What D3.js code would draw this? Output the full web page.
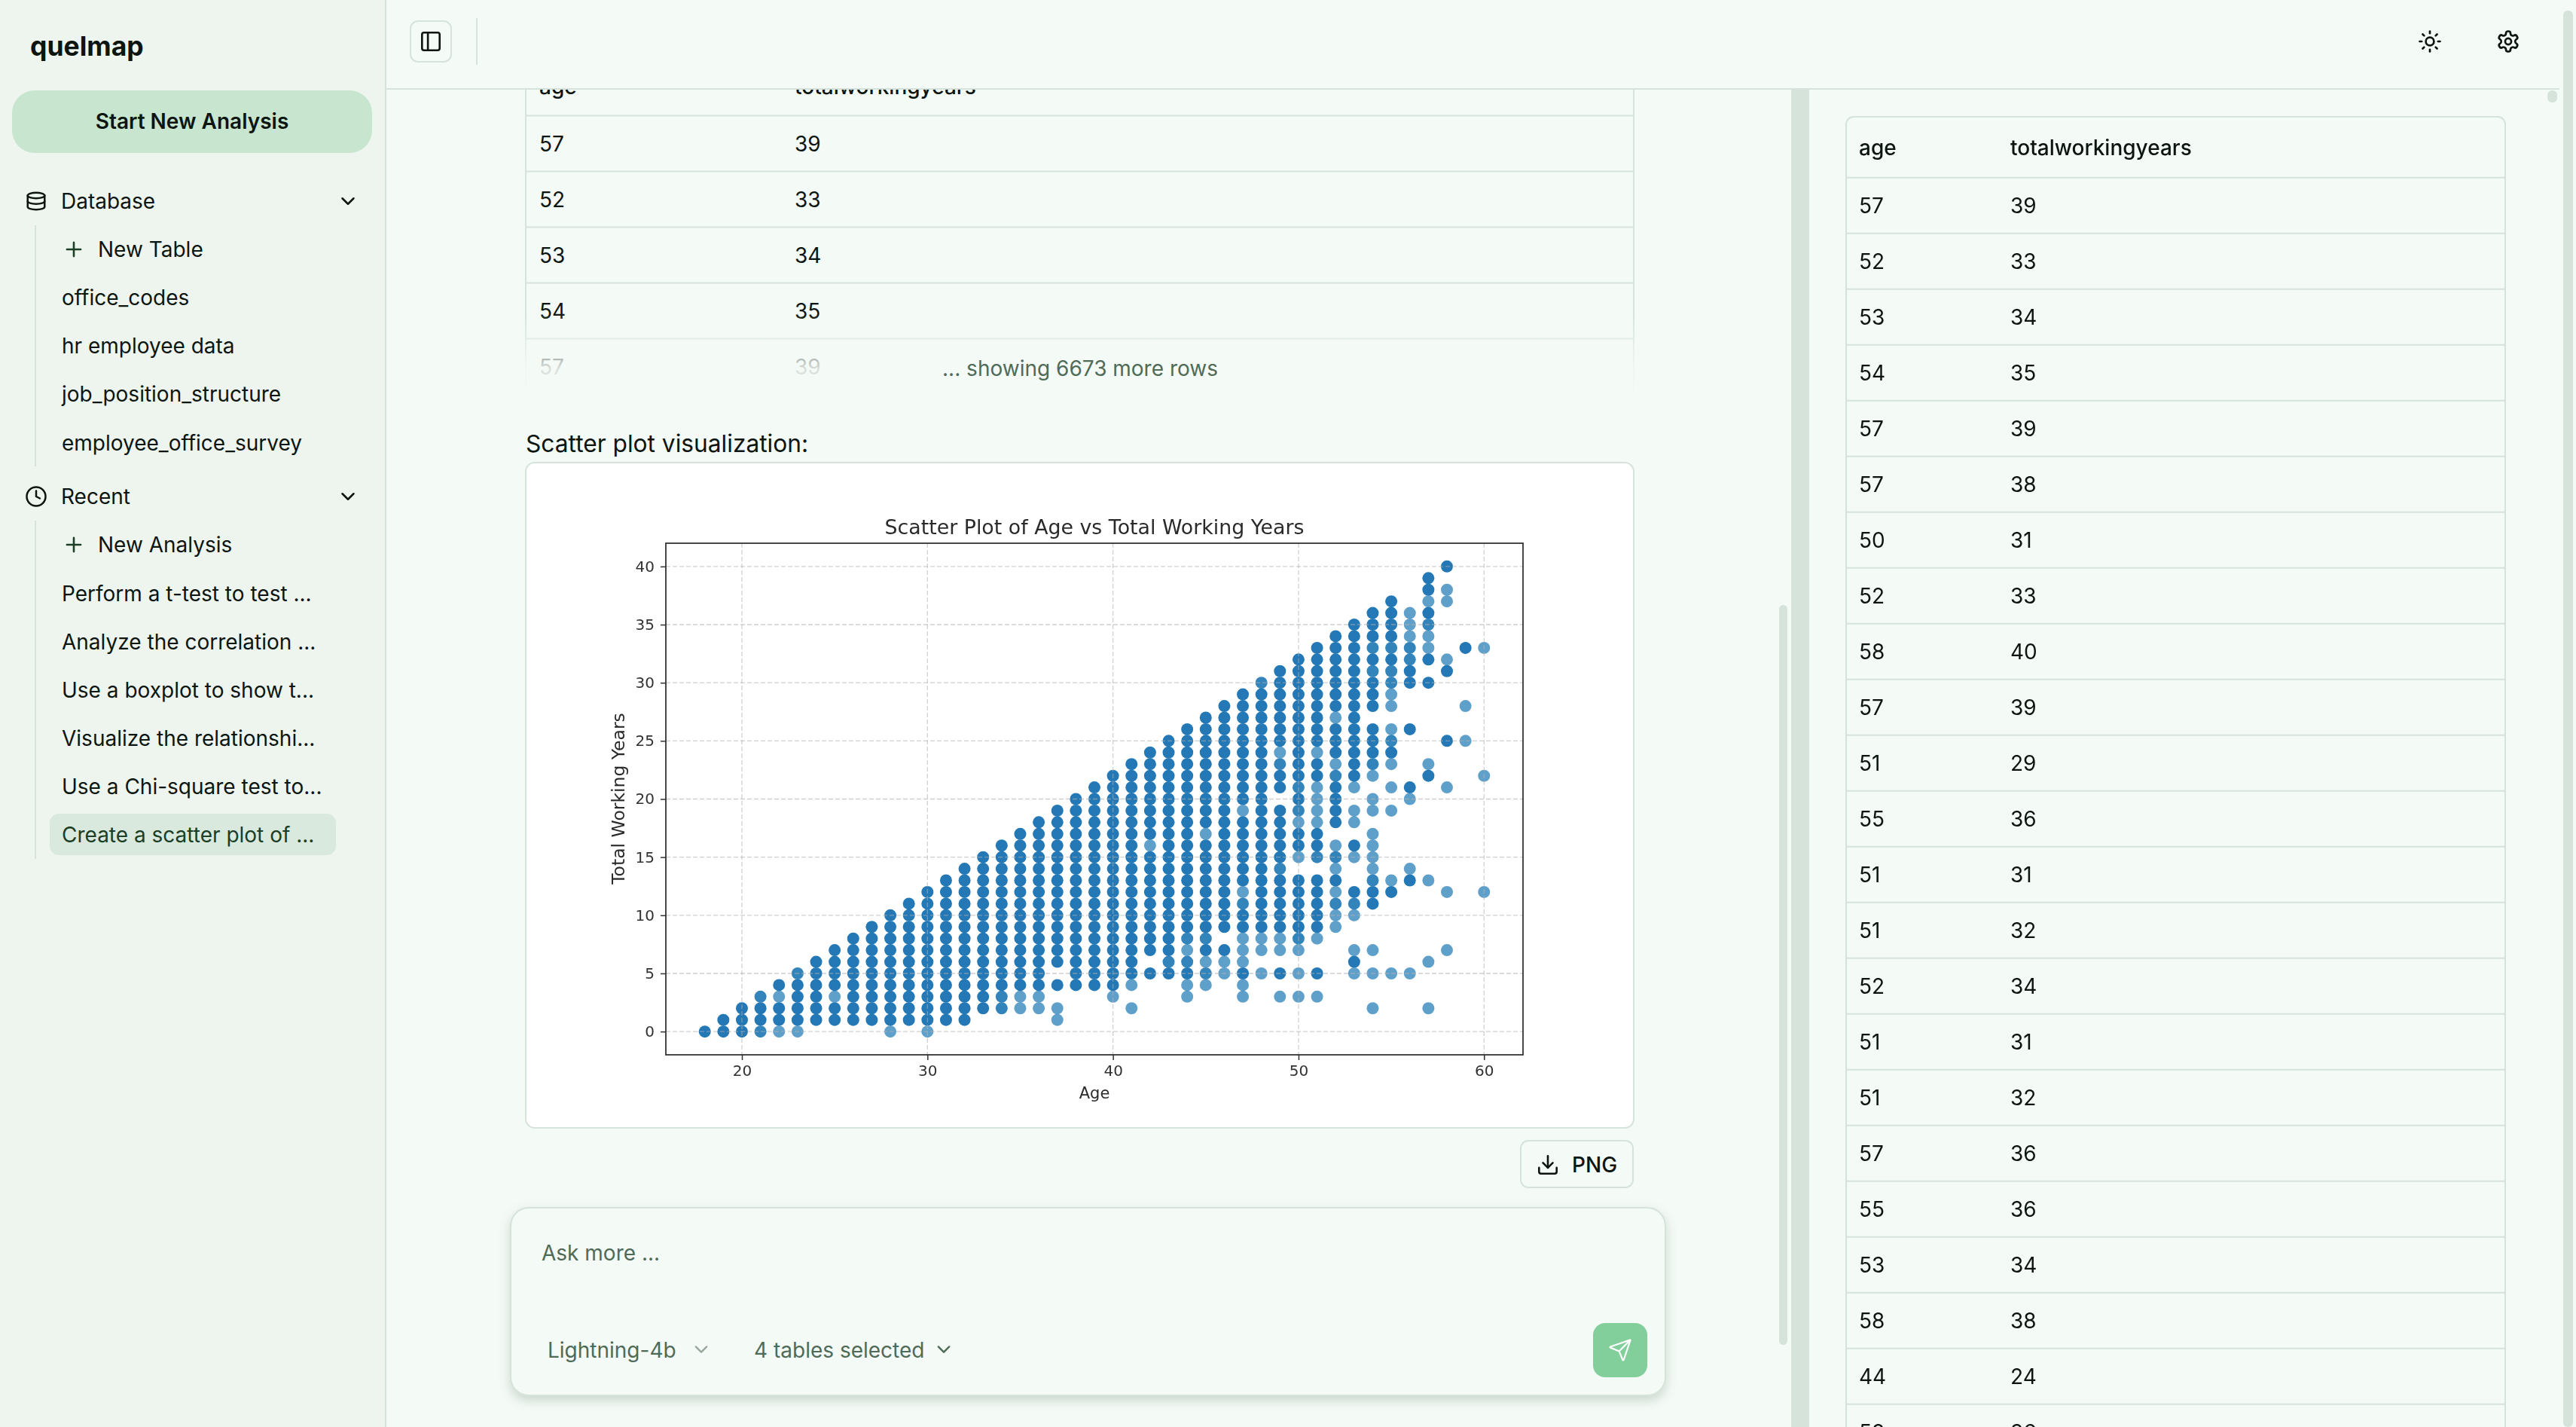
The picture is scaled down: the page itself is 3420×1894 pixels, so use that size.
<!DOCTYPE html>
<html>
<head>
<meta charset="utf-8">
<title>quelmap</title>
<script src="https://cdn.jsdelivr.net/npm/d3@7"></script>
<style>
  html, body { margin: 0; padding: 0; background: #f4faf6; overflow: hidden; }
  svg { display: block; font-family: Inter, sans-serif; }
</style>
</head>
<body>
<svg id="page" width="3420" height="1894"></svg>
<script>
// sidebar
const databaseItems = ["office_codes", "hr employee data", "job_position_structure", "employee_office_survey"]
const recentItems = ["Perform a t-test to test ...", "Analyze the correlation ...", "Use a boxplot to show t...", "Visualize the relationshi...", "Use a Chi-square test to...", "Create a scatter plot of ..."]

// table rows
const tableColumns = ["age", "totalworkingyears"]
const tableAges = [57, 52, 53, 54, 57, 57, 50, 52, 58, 57, 51, 55, 51, 51, 52, 51, 51, 57, 55, 53, 58, 44, 58]
const tableYears = [39, 33, 34, 35, 39, 38, 31, 33, 40, 39, 29, 36, 31, 32, 34, 31, 32, 36, 36, 34, 38, 24, 36]

// scatter, one entry per age
const ages = [18,19,20,21,22,23,24,25,26,27,28,29,30,31,32,33,34,35,36,37,38,39,40,41,42,43,44,45,46,47,48,49,50,51,52,53,54,55,56,57,58,59,60]
const yearsByAge = [
  [0],
  [0,1],
  [0,1,2],
  [0,1,2,3],
  [0,1,2,3,4],
  [0,1,2,3,4,5],
  [1,2,3,4,5,6],
  [1,2,3,4,5,6,7],
  [1,2,3,4,5,6,7,8],
  [1,2,3,4,5,6,7,8,9],
  [0,1,2,3,4,5,6,7,8,9,10],
  [1,2,3,4,5,6,7,8,9,10,11],
  [0,1,2,3,4,5,6,7,8,9,10,11,12],
  [1,2,3,4,5,6,7,8,9,10,11,12,13],
  [1,2,3,4,5,6,7,8,9,10,11,12,13,14],
  [2,3,4,5,6,7,8,9,10,11,12,13,14,15],
  [2,3,4,5,6,7,8,9,10,11,12,13,14,15,16],
  [2,3,4,5,6,7,8,9,10,11,12,13,14,15,16,17],
  [2,3,4,5,6,7,8,9,10,11,12,13,14,15,16,17,18],
  [1,2,4,6,7,8,9,10,11,12,13,14,15,16,17,18,19],
  [4,5,6,7,8,9,10,11,12,13,14,15,16,17,18,19,20],
  [4,5,6,7,8,9,10,11,12,13,14,15,16,17,18,19,20,21],
  [3,4,5,6,7,8,9,10,11,12,13,14,15,16,17,18,19,20,21,22],
  [2,4,5,6,7,8,9,10,11,12,13,14,15,16,17,18,19,20,21,22,23],
  [5,7,8,9,10,11,12,13,14,15,16,17,18,19,20,21,22,23,24],
  [5,6,7,8,9,10,11,12,13,14,15,16,17,18,19,20,21,22,23,24,25],
  [3,4,5,6,7,8,9,10,11,12,13,14,15,16,17,18,19,20,21,22,23,24,25,26],
  [4,5,6,7,8,9,10,11,12,13,14,15,16,17,18,19,20,21,22,23,24,25,26,27],
  [5,6,7,9,10,11,12,13,14,15,16,17,18,19,20,21,22,23,24,25,26,27,28],
  [3,4,5,6,7,8,9,10,11,12,13,14,15,16,17,18,19,20,21,22,23,24,25,26,27,28,29],
  [5,7,8,9,10,11,12,13,14,15,16,17,18,19,20,21,22,23,24,25,26,27,28,29,30],
  [3,5,7,8,9,10,11,12,13,14,15,16,17,18,19,21,22,23,24,25,26,27,28,29,30,31],
  [3,5,7,8,9,10,11,12,13,15,16,17,18,19,20,21,22,23,24,25,26,27,28,29,30,31,32],
  [3,5,8,9,10,11,12,13,15,16,17,18,19,20,21,22,23,24,25,26,27,28,29,30,31,32,33],
  [9,10,11,12,13,14,15,16,18,19,20,21,22,23,24,25,26,27,28,29,30,31,32,33,34],
  [5,6,7,10,11,12,15,16,18,19,21,22,23,24,25,26,27,28,29,30,31,32,33,34,35],
  [2,5,7,11,12,13,14,15,16,17,19,20,22,23,24,25,26,28,29,30,31,32,33,34,35,36],
  [5,12,13,19,21,23,24,25,26,28,29,30,31,32,33,34,35,36,37],
  [5,13,14,20,21,26,30,31,32,33,34,35,36],
  [2,6,13,22,23,30,32,33,34,35,36,37,38,39],
  [7,12,21,25,31,32,37,38,40],
  [25,28,33],
  [12,22,33]
]
// employees per point: pale dots are one person, mid dots two, the rest are stacked
const singleYearsByAge = [
  [],[],[],[],[0,3],[0],[],[3],[],[],[0],[],[0],[],[],[],[],[2,3],[2,3],[1,2],[],[],[3],[2,4],
  [16],[],[3,4,7],[4,6,17],[5,6],[3,4,6,7,8,12,19],[5,7,8],[3,7,8,24],[3,5,7,15,18],[3,8,18,19,20,21,24],
  [9,10,12,14,16,23,27],[5,7,10,15,18,19,21],[2,5,7,14,15,16,17,19,20,22],[5,13,19,21,23,26,28,29],
  [5,14,20,34,35,36],[2,6,13,23,33,34,37],[7,12,21,32,37,38],[25,28],[12,22,33]
]
const doubleYearsByAge = [
  [],[],[],[0,3],[],[5],[],[],[],[],[],[],[],[],[],[],[2,3],[],[],[],[],[],[],[],
  [],[6],[6,8],[5,8],[],[11],[30],[14,23],[8,19,21],[15],
  [11,15,22],[11],[13,23,31,33],[25,30,31,33],[32,33],[35],[],[],[]
]

const xTicks = [20, 30, 40, 50, 60]
const yTicks = [0, 5, 10, 15, 20, 25, 30, 35, 40]

const svg = d3.select("#page")
const ink = "#0c150f"
const lineColor = "#d5e3da"

const addText = (parent, x, y, str, size, opts = {}) => parent.append("text")
  .attr("x", x)
  .attr("y", y)
  .attr("dominant-baseline", "central")
  .attr("text-anchor", opts.anchor || "start")
  .attr("font-size", size)
  .attr("font-weight", opts.weight || 400)
  .attr("fill", opts.fill || ink)
  .text(str)

const icon = (parent, x, y, scale, paths, color = ink, width = 2) => {
  const g = parent.append("g")
    .attr("transform", `translate(${x - 12 * scale},${y - 12 * scale}) scale(${scale})`)
    .attr("fill", "none")
    .attr("stroke", color)
    .attr("stroke-width", width)
    .attr("stroke-linecap", "round")
    .attr("stroke-linejoin", "round")
  paths.forEach(d => g.append("path").attr("d", d))
}

const chevron = "M6 9l6 6 6-6"
const plus = "M5 12h14M12 5v14"

// defs
const defs = svg.append("defs")
const fade = defs.append("linearGradient").attr("id", "fade").attr("x1", 0).attr("x2", 0).attr("y1", 0).attr("y2", 1)
fade.append("stop").attr("offset", 0).attr("stop-color", "#f4faf6").attr("stop-opacity", 0)
fade.append("stop").attr("offset", 0.65).attr("stop-color", "#f4faf6").attr("stop-opacity", 0.88)
fade.append("stop").attr("offset", 1).attr("stop-color", "#f4faf6").attr("stop-opacity", 0.97)
const shadow = defs.append("filter").attr("id", "shadow").attr("x", "-5%").attr("y", "-10%").attr("width", "110%").attr("height", "125%")
shadow.append("feDropShadow").attr("dx", 0).attr("dy", 6).attr("stdDeviation", 7).attr("flood-color", "#5d7a66").attr("flood-opacity", 0.28)
// the chart in the reference is a resampled png, so it is a little soft
defs.append("filter").attr("id", "soft").append("feGaussianBlur").attr("stdDeviation", 0.5)

svg.append("rect").attr("width", 3420).attr("height", 1894).attr("fill", "#f4faf6")

// left table, scrolled under the top bar
const leftTable = svg.append("g")
const leftTop = 80
const rowH = 74
leftTable.append("rect").attr("x", 698).attr("y", leftTop).attr("width", 1471).attr("height", 446).attr("rx", 14)
  .attr("fill", "#f4faf6").attr("stroke", lineColor).attr("stroke-width", 2)
addText(leftTable, 716, 115, tableColumns[0], 28, { weight: 500 })
addText(leftTable, 1055, 115, tableColumns[1], 28, { weight: 500 })
d3.range(5).forEach(i => {
  const lineY = 153.6 + i * rowH
  leftTable.append("line").attr("x1", 698).attr("x2", 2169).attr("y1", lineY).attr("y2", lineY).attr("stroke", lineColor).attr("stroke-width", 2)
  addText(leftTable, 716, lineY + 37, tableAges[i], 28)
  addText(leftTable, 1055, lineY + 37, tableYears[i], 28)
})
svg.append("rect").attr("x", 696).attr("y", 415).attr("width", 1475).attr("height", 115).attr("fill", "url(#fade)")
addText(svg, 1434, 489, "... showing 6673 more rows", 28, { anchor: "middle", fill: "#4f6b57" })

addText(svg, 698, 588, "Scatter plot visualization:", 31.7)

// chart card
svg.append("rect").attr("x", 698).attr("y", 614).attr("width", 1471).attr("height", 883).attr("rx", 12)
  .attr("fill", "#fff").attr("stroke", lineColor).attr("stroke-width", 2)

const x = d3.scaleLinear().domain([15.9, 62.1]).range([884, 2022])
const y = d3.scaleLinear().domain([-2, 42]).range([1400, 721])
const chart = svg.append("g").attr("font-family", "'DejaVu Sans', sans-serif").attr("filter", "url(#soft)")

const points = ages.flatMap((age, i) => yearsByAge[i].map(years => ({
  age,
  years,
  count: singleYearsByAge[i].includes(years) ? 1 : doubleYearsByAge[i].includes(years) ? 2 : 4
})))

chart.append("g").selectAll("circle")
  .data(points)
  .join("circle")
  .attr("cx", d => x(d.age))
  .attr("cy", d => y(d.years))
  .attr("r", 8)
  .attr("fill", "#1f77b4")
  .attr("fill-opacity", d => 1 - Math.pow(0.3, d.count))

// grid sits over the dots like the original
const xAxis = chart.append("g").attr("transform", "translate(0,1400)")
  .call(d3.axisBottom(x).tickValues(xTicks).tickSize(7).tickPadding(7))
const yAxis = chart.append("g").attr("transform", "translate(884,0)")
  .call(d3.axisLeft(y).tickValues(yTicks).tickSize(7).tickPadding(8))
;[xAxis, yAxis].forEach(axis => {
  axis.select(".domain").remove()
  axis.attr("font-family", null).attr("font-size", 20)
  axis.selectAll(".tick line").attr("stroke", "#333").attr("stroke-width", 1.5)
  axis.selectAll(".tick text").attr("fill", "#333")
})
chart.append("g").selectAll("line")
  .data(xTicks)
  .join("line")
  .attr("x1", d => x(d)).attr("x2", d => x(d))
  .attr("y1", 721).attr("y2", 1400)
  .attr("stroke", "#b0b0b0").attr("stroke-opacity", 0.6).attr("stroke-width", 1.3).attr("stroke-dasharray", "6 3")
chart.append("g").selectAll("line")
  .data(yTicks)
  .join("line")
  .attr("x1", 884).attr("x2", 2022)
  .attr("y1", d => y(d)).attr("y2", d => y(d))
  .attr("stroke", "#b0b0b0").attr("stroke-opacity", 0.6).attr("stroke-width", 1.3).attr("stroke-dasharray", "6 3")
chart.append("rect").attr("x", 884).attr("y", 721).attr("width", 1138).attr("height", 679)
  .attr("fill", "none").attr("stroke", "#333").attr("stroke-width", 1.8)

addText(chart, 1453, 699, "Scatter Plot of Age vs Total Working Years", 26.8, { anchor: "middle", fill: "#2a2a2a" })
addText(chart, 1453, 1451, "Age", 21, { anchor: "middle", fill: "#2a2a2a" })
addText(chart, 0, 0, "Total Working Years", 23.5, { anchor: "middle", fill: "#2a2a2a" })
  .attr("transform", "translate(821,1060) rotate(-90)")

// png button
svg.append("rect").attr("x", 2019).attr("y", 1514).attr("width", 149).attr("height", 62).attr("rx", 10)
  .attr("fill", "#f4faf6").attr("stroke", lineColor).attr("stroke-width", 2)
icon(svg, 2055, 1546, 1.3, ["M21 15v4a2 2 0 0 1-2 2H5a2 2 0 0 1-2-2v-4", "M7 10l5 5 5-5", "M12 15V3"])
addText(svg, 2087, 1546, "PNG", 28, { weight: 500 })

// ask box
svg.append("rect").attr("x", 678).attr("y", 1603).attr("width", 1533).attr("height", 249).attr("rx", 24)
  .attr("fill", "#f4faf6").attr("stroke", lineColor).attr("stroke-width", 2).attr("filter", "url(#shadow)")
addText(svg, 719, 1663, "Ask more ...", 28, { fill: "#4f6b57" })
addText(svg, 727, 1792, "Lightning-4b", 28, { fill: "#4f6b57" })
icon(svg, 931, 1791, 1.2, [chevron], "#9aa89e")
addText(svg, 1001, 1792, "4 tables selected", 28, { fill: "#4f6b57" })
icon(svg, 1253, 1791, 1.2, [chevron], "#4f6b57")
svg.append("rect").attr("x", 2115).attr("y", 1756).attr("width", 72).attr("height", 72).attr("rx", 16).attr("fill", "#82cf9b")
icon(svg, 2151, 1792, 1.35, ["M14.5 21.7a.5.5 0 0 0 .9 0l6.5-19a.5.5 0 0 0-.6-.6l-19 6.5a.5.5 0 0 0 0 .9l7.9 3.2a2 2 0 0 1 1.1 1.1z", "M21.9 2.1 10.9 13.1"], "#fff", 1.6)

// pane scrollbar and divider
svg.append("rect").attr("x", 2362).attr("y", 803).attr("width", 11).attr("height", 982).attr("rx", 5.5).attr("fill", lineColor)
svg.append("rect").attr("x", 2378).attr("y", 119).attr("width", 24).attr("height", 1775).attr("fill", lineColor)
svg.append("rect").attr("x", 3382).attr("y", 120).attr("width", 13).attr("height", 16).attr("rx", 6).attr("fill", lineColor)

// right table
const rightTable = svg.append("g")
rightTable.append("rect").attr("x", 2451).attr("y", 155).attr("width", 875).attr("height", 1800).attr("rx", 10)
  .attr("fill", "#f4faf6").attr("stroke", lineColor).attr("stroke-width", 2)
addText(rightTable, 2468, 196, tableColumns[0], 28, { weight: 500 })
addText(rightTable, 2669, 196, tableColumns[1], 28, { weight: 500 })
tableAges.forEach((age, i) => {
  const lineY = 235.7 + i * rowH
  rightTable.append("line").attr("x1", 2451).attr("x2", 3326).attr("y1", lineY).attr("y2", lineY).attr("stroke", lineColor).attr("stroke-width", 2)
  addText(rightTable, 2468, lineY + 37, age, 28)
  addText(rightTable, 2669, lineY + 37, tableYears[i], 28)
})

// top bar
svg.append("rect").attr("x", 511).attr("y", 0).attr("width", 2887).attr("height", 118).attr("fill", "#f4faf6")
svg.append("rect").attr("x", 511).attr("y", 117).attr("width", 2887).attr("height", 2).attr("fill", lineColor)
svg.append("rect").attr("x", 545).attr("y", 28).attr("width", 54).attr("height", 54).attr("rx", 10)
  .attr("fill", "#f4faf6").attr("stroke", lineColor).attr("stroke-width", 2)
icon(svg, 572, 55, 1.3, ["M5 3h14a2 2 0 0 1 2 2v14a2 2 0 0 1-2 2H5a2 2 0 0 1-2-2V5a2 2 0 0 1 2-2z", "M9 3v18"])
svg.append("line").attr("x1", 633).attr("x2", 633).attr("y1", 24).attr("y2", 86).attr("stroke", lineColor).attr("stroke-width", 2)
icon(svg, 3226, 55, 1.35, ["M12 8a4 4 0 1 0 0 8 4 4 0 0 0 0-8z", "M12 2v2", "M12 20v2", "M4.93 4.93l1.41 1.41", "M17.66 17.66l1.41 1.41", "M2 12h2", "M20 12h2", "M6.34 17.66l-1.41 1.41", "M19.07 4.93l-1.41 1.41"])
icon(svg, 3330, 55, 1.35, ["M12.22 2h-.44a2 2 0 0 0-2 2v.18a2 2 0 0 1-1 1.73l-.43.25a2 2 0 0 1-2 0l-.15-.08a2 2 0 0 0-2.73.73l-.22.38a2 2 0 0 0 .73 2.73l.15.1a2 2 0 0 1 1 1.72v.51a2 2 0 0 1-1 1.74l-.15.09a2 2 0 0 0-.73 2.73l.22.38a2 2 0 0 0 2.73.73l.15-.08a2 2 0 0 1 2 0l.43.25a2 2 0 0 1 1 1.73V20a2 2 0 0 0 2 2h.44a2 2 0 0 0 2-2v-.18a2 2 0 0 1 1-1.73l.43-.25a2 2 0 0 1 2 0l.15.08a2 2 0 0 0 2.73-.73l.22-.39a2 2 0 0 0-.73-2.73l-.15-.08a2 2 0 0 1-1-1.74v-.5a2 2 0 0 1 1-1.74l.15-.09a2 2 0 0 0 .73-2.73l-.22-.38a2 2 0 0 0-2.73-.73l-.15.08a2 2 0 0 1-2 0l-.43-.25a2 2 0 0 1-1-1.73V4a2 2 0 0 0-2-2z", "M12 9a3 3 0 1 0 0 6 3 3 0 0 0 0-6z"])
svg.append("rect").attr("x", 3403).attr("y", 14).attr("width", 13).attr("height", 1880).attr("rx", 6).attr("fill", lineColor)

// sidebar
const side = svg.append("g")
side.append("rect").attr("width", 511).attr("height", 1894).attr("fill", "#eef5ef")
side.append("rect").attr("x", 511).attr("width", 2).attr("height", 1894).attr("fill", lineColor)
addText(side, 40, 61, "quelmap", 35.5, { weight: 700 })
side.append("rect").attr("x", 16).attr("y", 120).attr("width", 478).attr("height", 83).attr("rx", 30).attr("fill", "#c8e6cf")
addText(side, 255, 161, "Start New Analysis", 28, { anchor: "middle", weight: 600 })

addText(side, 81, 267, "Database", 28)
icon(side, 48, 267, 1.25, ["M12 3c5 0 9 1.3 9 3s-4 3-9 3-9-1.3-9-3 4-3 9-3z", "M3 6v12c0 1.7 4 3 9 3s9-1.3 9-3V6", "M3 12c0 1.7 4 3 9 3s9-1.3 9-3"])
icon(side, 462, 267, 1.25, [chevron])
side.append("line").attr("x1", 47).attr("x2", 47).attr("y1", 299).attr("y2", 619).attr("stroke", lineColor).attr("stroke-width", 2)
icon(side, 98, 331, 1.3, [plus], "#1c3d26")
addText(side, 130, 331, "New Table", 28)
databaseItems.forEach((d, i) => addText(side, 82, 395 + i * 64.2, d, 28))

addText(side, 81, 659, "Recent", 28)
icon(side, 48, 659, 1.25, ["M12 2a10 10 0 1 0 0 20 10 10 0 0 0 0-20z", "M12 6v6l4 2"])
icon(side, 462, 659, 1.25, [chevron])
side.append("line").attr("x1", 47).attr("x2", 47).attr("y1", 691).attr("y2", 1140).attr("stroke", lineColor).attr("stroke-width", 2)
icon(side, 98, 723, 1.3, [plus], "#1c3d26")
addText(side, 130, 723, "New Analysis", 28)
side.append("rect").attr("x", 66).attr("y", 1080).attr("width", 380).attr("height", 55).attr("rx", 12).attr("fill", "#d9e9de")
recentItems.forEach((d, i) => addText(side, 82, 788 + i * 63.95, d, 28, { fill: i === 5 ? "#1c3d26" : ink }))
</script>
</body>
</html>
